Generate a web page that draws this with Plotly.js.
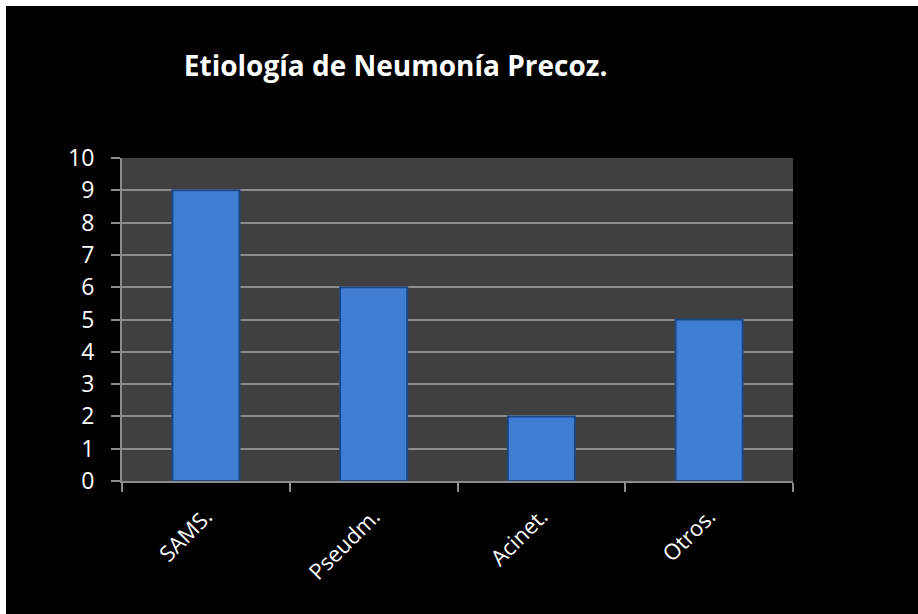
<!DOCTYPE html>
<html>
<head>
<meta charset="utf-8">
<script src="https://cdn.plot.ly/plotly-3.0.1.min.js"></script>
<style>
html,body{margin:0;padding:0;background:#ffffff;}
#chart{position:absolute;left:6px;top:6px;width:912px;height:608px;}
</style>
</head>
<body>
<div id="chart"></div>
<script>
const categories = ["SAMS.", "Pseudm.", "Acinet.", "Otros."];
const values = [9, 6, 2, 5];
const yTicks = [0,1,2,3,4,5,6,7,8,9,10];

const trace = {
  type: "bar",
  x: categories,
  y: values,
  width: 0.4,
  marker: {color: "#3f7ed2", line: {color: "#1c4785", width: 2}},
  hoverinfo: "x+y"
};

const layout = {
  width: 912, height: 608,
  paper_bgcolor: "#000000",
  plot_bgcolor: "#404040",
  margin: {l: 116, r: 125, t: 152, b: 133},
  showlegend: false,
  title: {
    text: "<b>Etiología de Neumonía Precoz.</b>",
    font: {family: "Open Sans, sans-serif", size: 28, color: "#ffffff"},
    x: 0.195, xanchor: "left", y: 0.901, yanchor: "middle", xref: "container", yref: "container"
  },
  xaxis: {
    type: "category",
    tickson: "boundaries",
    ticks: "outside", ticklen: 9, tickcolor: "#8c8c8c", tickwidth: 2,
    showline: true, linecolor: "#8c8c8c", linewidth: 2,
    showgrid: false,
    tickangle: -45,
    ticklabelstandoff: 12,
    tickfont: {family: "Open Sans, sans-serif", size: 22, color: "#ffffff"}
  },
  yaxis: {
    range: [0, 10],
    tickvals: yTicks,
    ticktext: yTicks.map(String),
    ticks: "outside", ticklen: 9, tickcolor: "#8c8c8c", tickwidth: 2,
    showline: true, linecolor: "#8c8c8c", linewidth: 2,
    showgrid: true, gridcolor: "#8c8c8c", gridwidth: 2,
    zeroline: false,
    ticklabelstandoff: 12,
    tickfont: {family: "Open Sans, sans-serif", size: 23, color: "#ffffff"}
  }
};

Plotly.newPlot("chart", [trace], layout, {displayModeBar: false, staticPlot: true});
</script>
</body>
</html>
